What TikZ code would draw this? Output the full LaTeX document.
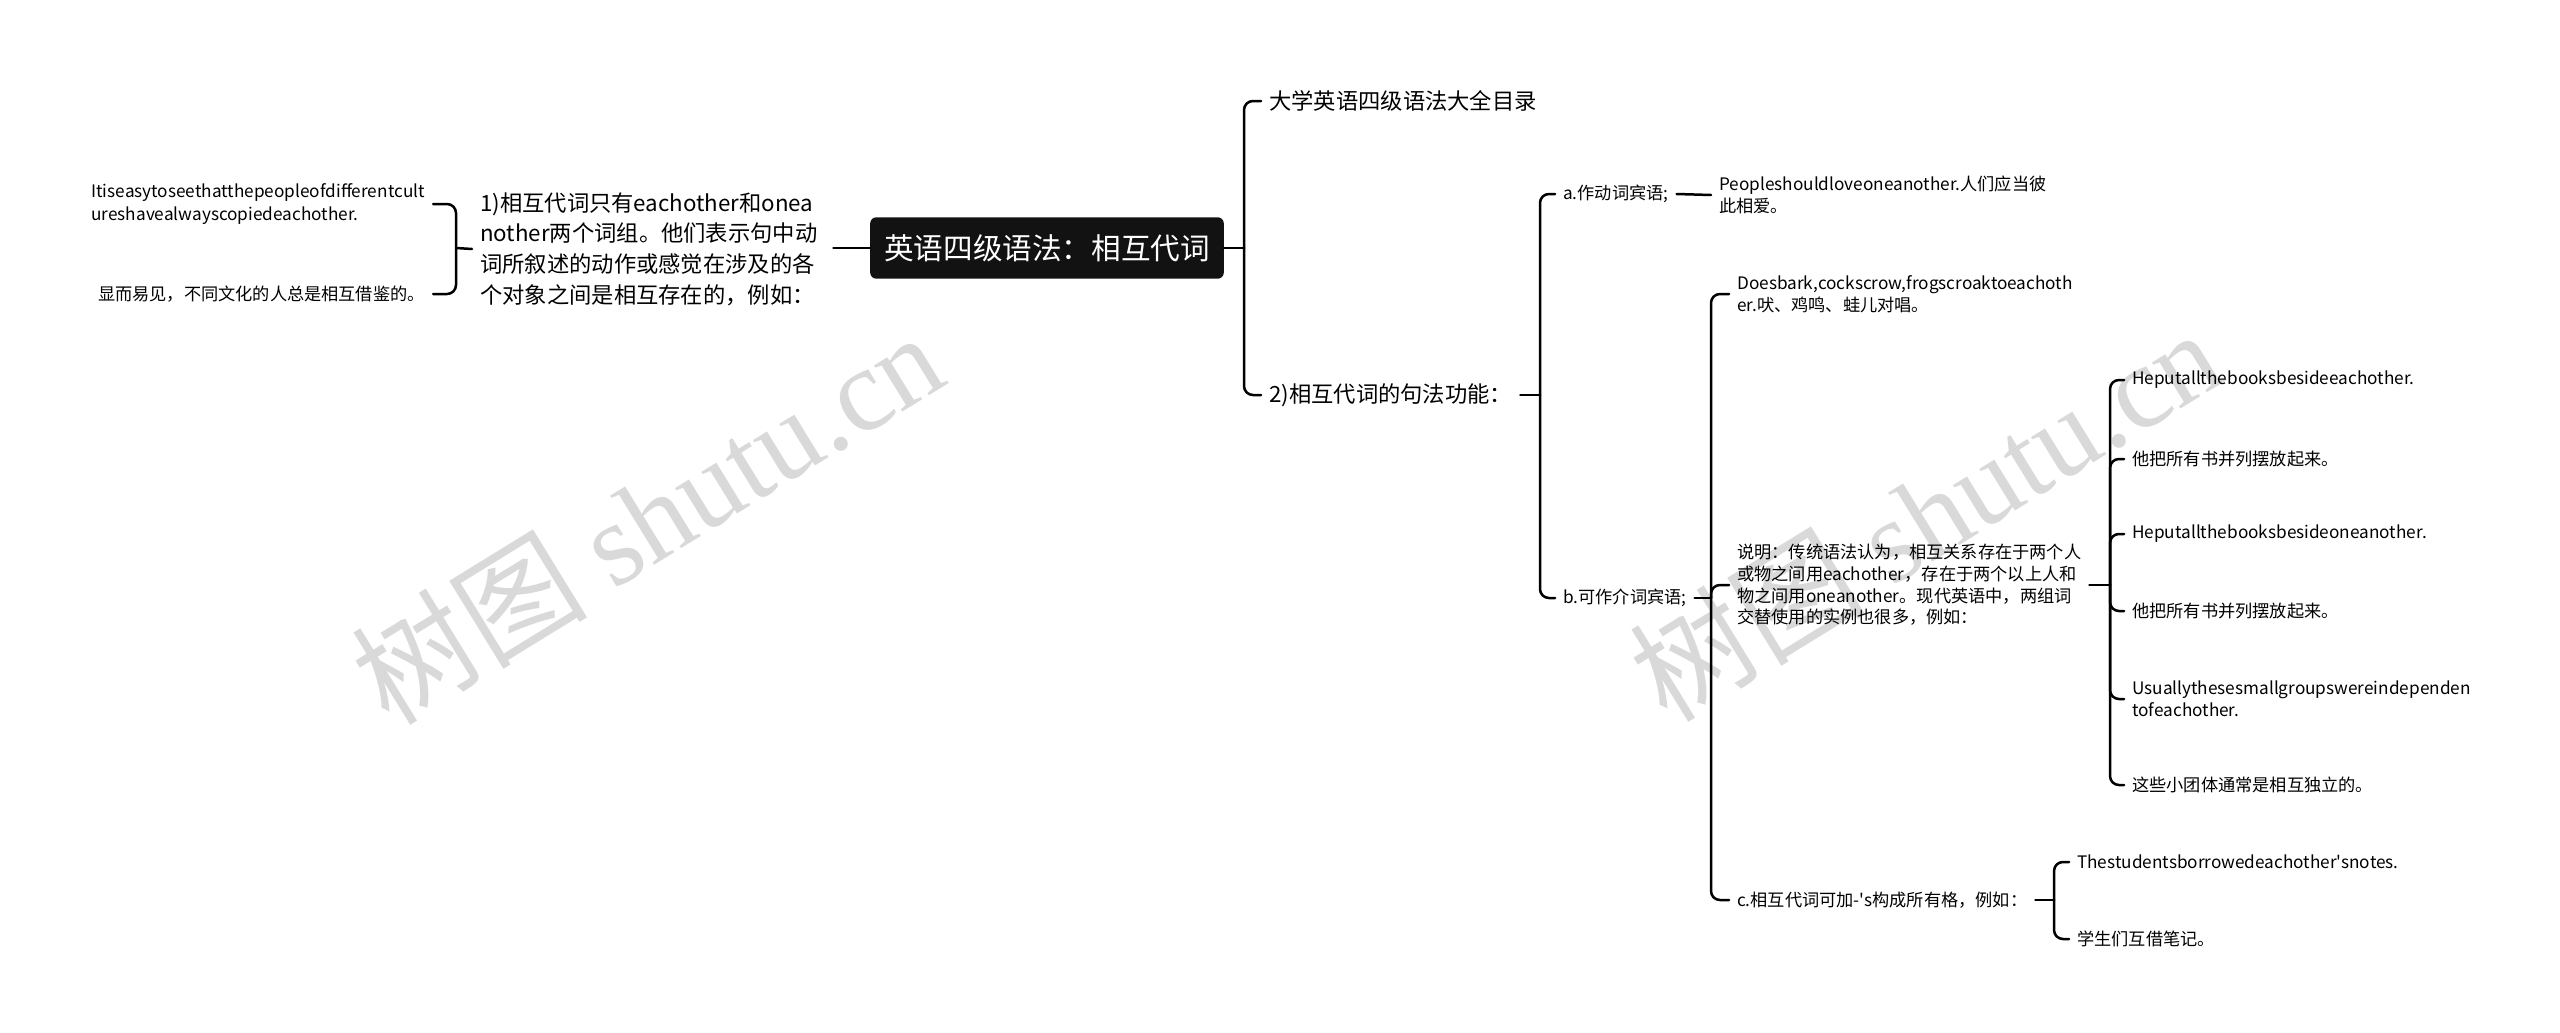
\documentclass[tikz,border=0pt]{standalone}
\usepackage{fontspec}
\newfontfamily\cjk{Noto Sans CJK SC}
\newfontfamily\wmser{Liberation Serif}
\begin{document}
\begin{tikzpicture}[x=1pt,y=1pt,
  conn/.style={line width=2.5pt, rounded corners=9pt, line cap=round},
  bigtxt/.style={font=\cjk\fontsize{22.3}{30.6}\selectfont, inner xsep=8pt, inner ysep=0pt, align=left},
  smalltxt/.style={font=\cjk\fontsize{17.2}{22.4}\selectfont, inner xsep=8pt, inner ysep=0pt, align=left},
  rootbox/.style={fill=black!93, text=white, rounded corners=6pt, font=\cjk\fontsize{29.6}{34}\selectfont, inner xsep=14pt, inner ysep=17pt},
  wmark/.style={text=black!15, rotate=31.6, inner sep=0pt}
]
\useasboundingbox (0,0) rectangle (2560,-1033);
\fill[white] (0,0) rectangle (2560,-1033);

% watermarks
\node[wmark] (wm1) at (647,-517) {\cjk\fontsize{118}{118}\selectfont 树图 \wmser shutu.cn};
\node[wmark] (wm2) at (1925,-514) {\cjk\fontsize{118}{118}\selectfont 树图 \wmser shutu.cn};

% root
\node[rootbox] (root) at (1047,-248) {英语四级语法：相互代词};

% left branch
\node[bigtxt, anchor=west, text width=345pt] (n1) at (472,-249) {1)相互代词只有eachother和onea\\nother两个词组。他们表示句中动\\词所叙述的动作或感觉在涉及的各\\个对象之间是相互存在的，例如：};
\node[smalltxt, anchor=east] (l1) at (433,-204) {Itiseasytoseethatthepeopleofdifferentcult\\ureshavealwayscopiedeachother.};
\node[smalltxt, anchor=east] (l2) at (433,-294) {显而易见，不同文化的人总是相互借鉴的。};

% right branch level 1
\node[bigtxt, anchor=west] (r1) at (1261,-101) {大学英语四级语法大全目录};
\node[bigtxt, anchor=west] (r2) at (1261,-395) {2)相互代词的句法功能：};

% level 2
\node[smalltxt, anchor=west] (a) at (1555,-194) {a.作动词宾语;};
\node[smalltxt, anchor=west] (b) at (1555,-598) {b.可作介词宾语;};
\node[smalltxt, anchor=west] (p) at (1711,-195) {Peopleshouldloveoneanother.人们应当彼\\此相爱。};

% level 3 under b
\node[smalltxt, anchor=west] (d) at (1729,-294) {Doesbark,cockscrow,frogscroaktoeachoth\\er.吠、鸡鸣、蛙儿对唱。};
\node[smalltxt, anchor=west, font=\cjk\fontsize{17.2}{21.7}\selectfont] (s) at (1729,-585) {说明：传统语法认为，相互关系存在于两个人\\或物之间用eachother，存在于两个以上人和\\物之间用oneanother。现代英语中，两组词\\交替使用的实例也很多，例如：};
\node[smalltxt, anchor=west] (c) at (1729,-900) {c.相互代词可加-'s构成所有格，例如：};

% level 4 under s
\node[smalltxt, anchor=west] (h1) at (2124,-380) {Heputallthebooksbesideeachother.};
\node[smalltxt, anchor=west] (h2) at (2124,-459) {他把所有书并列摆放起来。};
\node[smalltxt, anchor=west] (h3) at (2124,-534) {Heputallthebooksbesideoneanother.};
\node[smalltxt, anchor=west] (h4) at (2124,-611) {他把所有书并列摆放起来。};
\node[smalltxt, anchor=west] (h5) at (2124,-699) {Usuallythesesmallgroupswereindependen\\tofeachother.};
\node[smalltxt, anchor=west] (h6) at (2124,-785) {这些小团体通常是相互独立的。};

% level 4 under c
\node[smalltxt, anchor=west] (c1) at (2069,-862) {Thestudentsborrowedeachother'snotes.};
\node[smalltxt, anchor=west] (c2) at (2069,-939) {学生们互借笔记。};

% fork points
\coordinate (fL) at (456,-248);
\coordinate (fR) at (1244,-248);
\coordinate (f2) at (1540,-395);
\coordinate (fb) at (1711,-598);
\coordinate (fs) at (2110,-585);
\coordinate (fc) at (2054,-900);

% connectors
\draw[conn] (root.west) -- (n1.east |- root.west);
\draw[conn] (n1.west) -- (fL);
\draw[conn] (fL) |- (l1.east);
\draw[conn] (fL) |- (l2.east);

\draw[conn] (root.east) -- (fR);
\draw[conn] (fR) |- (r1.west);
\draw[conn] (fR) |- (r2.west);

\draw[conn] (r2.east) -- (f2);
\draw[conn] (f2) |- (a.west);
\draw[conn] (f2) |- (b.west);

\draw[conn] (a.east) -- (p.west);

\draw[conn] (b.east) -- (fb);
\draw[conn] (fb) |- (d.west);
\draw[conn] (fb) |- (s.west);
\draw[conn] (fb) |- (c.west);

\draw[conn] (s.east) -- (fs);
\foreach \k in {h1,h2,h3,h4,h5,h6} {\draw[conn] (fs) |- (\k.west);}

\draw[conn] (c.east) -- (fc);
\draw[conn] (fc) |- (c1.west);
\draw[conn] (fc) |- (c2.west);
\end{tikzpicture}
\end{document}
